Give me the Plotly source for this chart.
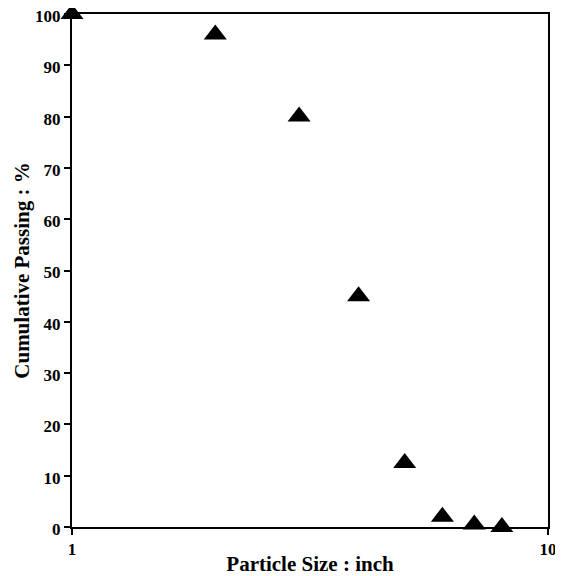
import plotly.graph_objects as go

particle_size = [1, 2, 3, 4, 5, 6, 7, 8]
cum_passing = [100, 96, 80, 45, 12.5, 2, 0.5, 0]
y_ticks = list(range(0, 101, 10))
x_ticks = [1, 10]

fig = go.Figure()
fig.add_trace(go.Scatter(
    x=particle_size, y=cum_passing, mode="markers",
    marker=dict(symbol="triangle-up", size=20, color="black"),
    cliponaxis=False, showlegend=False,
))

fam = "Liberation Serif, Times New Roman, serif"
# page body has an 8px margin, so the figure is shrunk by 8px and offsets compensated
fig.update_layout(
    width=555, height=568,
    margin=dict(l=64, r=15, t=6, b=49),
    paper_bgcolor="white", plot_bgcolor="white",
    font=dict(family=fam, size=17, color="black"),
    xaxis=dict(
        type="log", range=[0, 1], tickvals=x_ticks,
        ticktext=[f"<b>{v}</b>" for v in x_ticks],
        showgrid=False, zeroline=False, showline=True, linecolor="black", linewidth=2,
        mirror=True, ticks="outside", ticklen=6, tickwidth=2, tickcolor="black",
        title=dict(text="<b>Particle Size : inch</b>",
                   font=dict(family=fam, size=21, color="black")),
        tickfont=dict(size=17), ticklabeloverflow="allow",
        automargin=False,
    ),
    yaxis=dict(
        range=[0, 100], tickvals=y_ticks,
        ticktext=[f"<b>{v}</b>" for v in y_ticks],
        showgrid=False, zeroline=False, showline=True, linecolor="black", linewidth=2,
        mirror=True, ticks="outside", ticklen=6, tickwidth=2, tickcolor="black",
        title=dict(text="<b>Cumulative Passing : %</b>", standoff=0,
                   font=dict(family=fam, size=21, color="black")),
        tickfont=dict(size=17), ticklabeloverflow="allow", ticklabelshift=2,
        automargin="left+right",
    ),
)
fig.write_html("out.html")
